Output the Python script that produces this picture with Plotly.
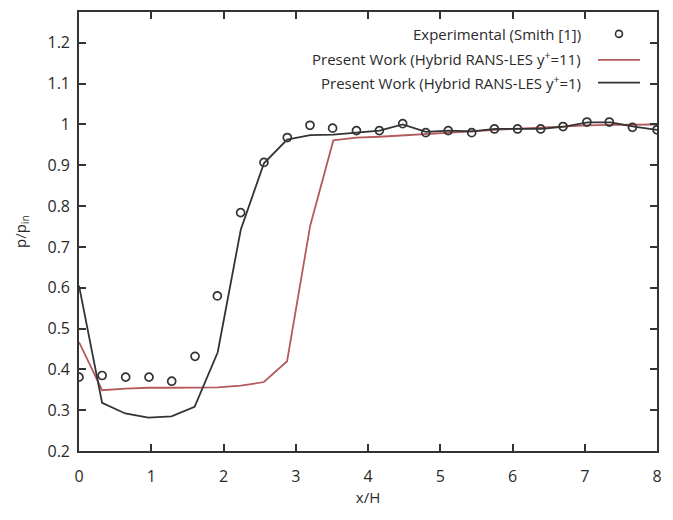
import plotly.graph_objects as go

# Experimental (Smith [1])
exp_x = [0.0, 0.32, 0.646, 0.969, 1.283, 1.606, 1.915, 2.237, 2.56, 2.883, 3.197, 3.51,
         3.84, 4.157, 4.48, 4.80, 5.11, 5.435, 5.75, 6.07, 6.39, 6.70, 7.03, 7.34, 7.66, 8.0]
exp_y = [0.381, 0.385, 0.381, 0.381, 0.371, 0.432, 0.580, 0.784, 0.907, 0.968, 0.998, 0.991,
         0.985, 0.985, 1.002, 0.980, 0.985, 0.980, 0.989, 0.989, 0.989, 0.995, 1.006, 1.006, 0.993, 0.987]

# Hybrid RANS-LES y+=11
red_x = [0.0, 0.32, 0.64, 0.96, 1.28, 1.60, 1.92, 2.24, 2.56, 2.88, 3.20, 3.52,
         3.84, 4.16, 4.48, 4.80, 5.12, 5.44, 5.76, 6.08, 6.40, 6.72, 7.04, 7.36, 7.68, 8.0]
red_y = [0.467, 0.349, 0.353, 0.355, 0.355, 0.355, 0.356, 0.360, 0.369, 0.420, 0.752, 0.961,
         0.968, 0.970, 0.973, 0.976, 0.979, 0.983, 0.987, 0.990, 0.993, 0.996, 0.998, 0.999, 1.000, 1.000]

# Hybrid RANS-LES y+=1
blk_x = red_x
blk_y = [0.605, 0.318, 0.292, 0.282, 0.285, 0.308, 0.442, 0.743, 0.905, 0.963, 0.974, 0.975,
         0.980, 0.985, 1.000, 0.982, 0.985, 0.983, 0.989, 0.989, 0.989, 0.995, 1.005, 1.005, 0.995, 0.987]

legend_labels = ["Experimental (Smith [1])",
                 "Present Work (Hybrid RANS-LES y<sup>+</sup>=11)",
                 "Present Work (Hybrid RANS-LES y<sup>+</sup>=1)"]

RED = "#b45a5c"
BLK = "#333333"
TXT = "#2a2a2a"
FONT = "Open Sans, DejaVu Sans, sans-serif"

fig = go.Figure()
fig.add_trace(go.Scatter(x=red_x, y=red_y, mode="lines", line=dict(color=RED, width=1.8),
                         name=legend_labels[1], showlegend=False))
fig.add_trace(go.Scatter(x=blk_x, y=blk_y, mode="lines", line=dict(color=BLK, width=1.8),
                         name=legend_labels[2], showlegend=False))
fig.add_trace(go.Scatter(x=exp_x, y=exp_y, mode="markers",
                         marker=dict(symbol="circle-open", size=8, color=BLK, line=dict(width=1.7)),
                         name=legend_labels[0], showlegend=False))

# page has an 8px body margin; figure coordinates below are page coords minus 8
OFF = 8
W, H = 673 - OFF, 520 - OFF
L, T = 79 - OFF, 10 - OFF
R = W - (657 - OFF)
B = H - (451 - OFF)
pw, ph = W - L - R, H - T - B

def px(x):
    return (x - OFF - L) / pw

def py(y):
    return 1 - (y - OFF - T) / ph

# custom gnuplot-style legend (text right-aligned, sample on right)
rows = [32, 57, 81]
for lab, yy in zip(legend_labels, rows):
    fig.add_annotation(xref="paper", yref="paper", x=px(583), y=py(yy), text=lab,
                       showarrow=False, xanchor="right", yanchor="middle",
                       font=dict(size=15, color=TXT, family=FONT))
fig.add_shape(type="circle", xref="paper", yref="paper",
              x0=px(615.5), x1=px(622.5), y0=py(rows[0] - 3.5), y1=py(rows[0] + 3.5),
              line=dict(color=BLK, width=1.6))
fig.add_shape(type="line", xref="paper", yref="paper", x0=px(598), x1=px(640),
              y0=py(rows[1] + 1), y1=py(rows[1] + 1), line=dict(color=RED, width=1.8))
fig.add_shape(type="line", xref="paper", yref="paper", x0=px(598), x1=px(640),
              y0=py(rows[2]), y1=py(rows[2]), line=dict(color=BLK, width=1.8))

axis_common = dict(showline=True, linecolor="#333333", linewidth=1.6, mirror="ticks",
                   ticks="inside", ticklen=7, tickwidth=1.6, tickcolor="#333333",
                   showgrid=False, zeroline=False,
                   tickfont=dict(size=16, color=TXT, family=FONT))

fig.update_xaxes(range=[0, 8], tick0=0, dtick=1, ticklabelstandoff=10,
                 title=dict(text="x/H", font=dict(size=15, color=TXT, family=FONT), standoff=4),
                 **axis_common)
fig.update_yaxes(range=[0.2, 1.2756], tick0=0.2, dtick=0.1, ticklabelstandoff=4,
                 title=dict(text="p/p<sub>in</sub>", font=dict(size=15, color=TXT, family=FONT), standoff=17),
                 **axis_common)

fig.update_layout(width=W, height=H, margin=dict(l=L, r=R, t=T, b=B),
                  plot_bgcolor="white", paper_bgcolor="white", showlegend=False)

fig.write_html("out.html")
